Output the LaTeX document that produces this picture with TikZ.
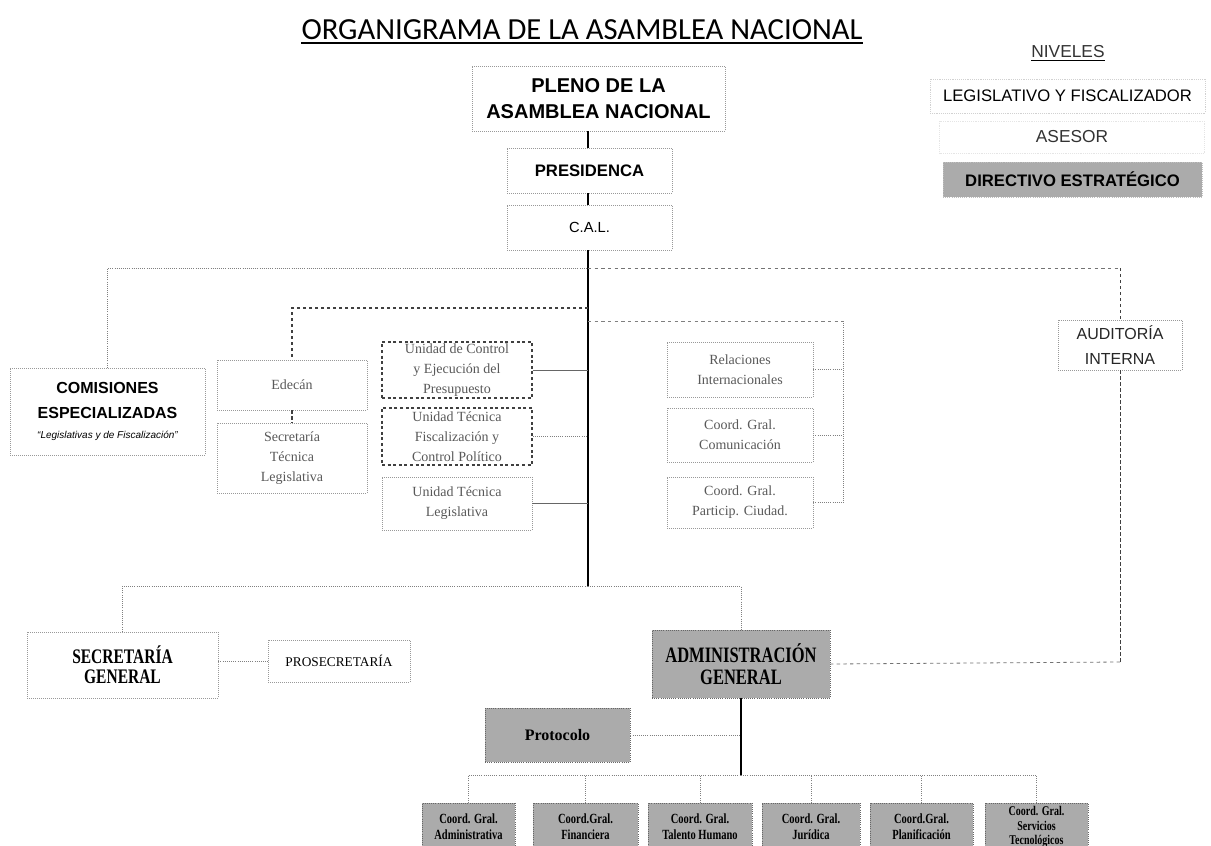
\documentclass[tikz,border=0pt]{standalone}
\usepackage{fontspec}
\setmainfont{Liberation Serif}
\newfontfamily\calib{Carlito}
\newfontfamily\arial{Liberation Sans}
\newfontfamily\condserif[FakeStretch=0.75]{Liberation Serif}
\tikzset{
  lbox/.style={draw=black!40,densely dotted,line width=0.5pt,inner sep=0pt,align=center},
  fbox/.style={draw=black!18,densely dotted,line width=0.4pt,inner sep=0pt,align=center},
  dbox/.style={draw=black!75,dash pattern=on 2.2pt off 2pt,line width=0.8pt,inner sep=0pt,align=center},
  gbox/.style={draw=black!60,densely dotted,line width=0.6pt,fill=black!33,inner sep=0pt,align=center},
  spine/.style={black,line width=1.5pt},
  gline/.style={black!50,densely dotted,line width=0.6pt},
  sline/.style={black!60,line width=0.6pt},
  dline/.style={black!75,dash pattern=on 2.5pt off 2pt,line width=0.8pt},
  rdash/.style={black!55,dash pattern=on 2.5pt off 2.5pt,line width=0.6pt},
  small/.style={font=\fontsize{10.5}{15}\selectfont, text=black!65},
  bottomtxt/.style={font=\condserif\bfseries\fontsize{10.5}{12}\selectfont}
}
\begin{document}
\begin{tikzpicture}[x=0.75pt,y=-0.75pt]
\clip (0,0) rectangle (1211,846);
\fill[white] (0,0) rectangle (1211,846);

% title and legend
\node[inner sep=0pt,anchor=base,font=\calib\fontsize{23}{26}\selectfont] (title) at (582,39) {ORGANIGRAMA DE LA ASAMBLEA NACIONAL};
\draw[line width=0.8pt] ([yshift=-3pt]title.base west) -- ([yshift=-3pt]title.base east);
\node[inner sep=0pt,anchor=base,font=\arial\fontsize{13}{15}\selectfont,text=black!80] (niv) at (1068,57) {NIVELES};
\draw[line width=0.6pt] ([yshift=-2.5pt]niv.base west) -- ([yshift=-2.5pt]niv.base east);
\node[fbox,minimum width=206.25pt,minimum height=25.5pt,font=\arial\fontsize{12.5}{14}\selectfont] (leg1) at (1067.5,96) {LEGISLATIVO Y FISCALIZADOR};
\node[fbox,draw=black!10,minimum width=198.75pt,minimum height=24pt,font=\arial\fontsize{13}{15}\selectfont,text=black!80] (leg2) at (1072,137) {ASESOR};
\node[gbox,draw=black!25,minimum width=194.25pt,minimum height=26.25pt,font=\arial\bfseries\fontsize{12.5}{14}\selectfont] (leg3) at (1072.5,179.5) {DIRECTIVO ESTRATÉGICO};

% top chain
\node[lbox,minimum width=189.75pt,minimum height=48.75pt,font=\arial\bfseries\fontsize{15}{19}\selectfont] (pleno) at (598.5,98.5) {PLENO DE LA\\ASAMBLEA NACIONAL};
\node[lbox,minimum width=123.75pt,minimum height=33.75pt,font=\arial\bfseries\fontsize{12.5}{14}\selectfont] (pres) at (589.5,170.5) {PRESIDENCA};
\node[lbox,minimum width=123.75pt,minimum height=33.75pt,font=\arial\fontsize{11}{13}\selectfont] (cal) at (589.5,227.5) {C.A.L.};

% left side
\node[lbox,minimum width=146.25pt,minimum height=65.25pt,font=\arial\bfseries\fontsize{12}{19}\selectfont] (comis) at (107.5,411.5) {COMISIONES\\ESPECIALIZADAS\\[-4pt]\mdseries\itshape\fontsize{7.5}{9}\selectfont “Legislativas y de Fiscalización”};
\node[lbox,minimum width=112.5pt,minimum height=37.5pt,small] (edecan) at (292,385) {Edecán};
\node[lbox,minimum width=112.5pt,minimum height=52.5pt,small] (sectec) at (292,458) {Secretaría\\Técnica\\Legislativa};

% center-left column
\node[dbox,minimum width=112.5pt,minimum height=42pt,small] (uce) at (457,370) {Unidad de Control\\y Ejecución del\\Presupuesto};
\node[dbox,minimum width=112.5pt,minimum height=42.75pt,small] (utf) at (457,436.5) {Unidad Técnica\\Fiscalización y\\Control Político};
\node[lbox,minimum width=112.5pt,minimum height=39.75pt,small] (utl) at (457,503.5) {Unidad Técnica\\Legislativa};

% center-right column
\node[lbox,minimum width=109.5pt,minimum height=41.25pt,small] (rel) at (740,369.5) {Relaciones\\Internacionales};
\node[lbox,minimum width=109.5pt,minimum height=40.5pt,small] (com) at (740,435) {Coord. Gral.\\Comunicación};
\node[lbox,minimum width=109.5pt,minimum height=38.25pt,small] (par) at (740,502.5) {Coord. Gral.\\Particip. Ciudad.};

% auditoria
\node[lbox,minimum width=93pt,minimum height=37.5pt,font=\arial\fontsize{12}{19}\selectfont,text=black!85] (aud) at (1120,345) {AUDITORÍA\\INTERNA};

% lower level
\node[lbox,minimum width=143.25pt,minimum height=49.5pt,font=\condserif\bfseries\fontsize{15.5}{15}\selectfont] (secg) at (122.5,665) {SECRETARÍA\\GENERAL};
\node[lbox,minimum width=106.5pt,minimum height=31.5pt,font=\fontsize{10}{12}\selectfont] (prosec) at (339,661) {PROSECRETARÍA};
\node[gbox,minimum width=133.5pt,minimum height=51pt,font=\condserif\bfseries\fontsize{16.5}{17}\selectfont] (admin) at (741,664) {ADMINISTRACIÓN\\GENERAL};
\node[gbox,minimum width=108.75pt,minimum height=40.5pt,font=\bfseries\fontsize{12}{14}\selectfont] (proto) at (557.5,735) {Protocolo};

% bottom boxes
\node[gbox,minimum width=69.75pt,minimum height=36pt,bottomtxt] (b1) at (468.5,827) {Coord. Gral.\\Administrativa};
\node[gbox,minimum width=78.75pt,minimum height=36pt,bottomtxt] (b2) at (585.5,827) {Coord.Gral.\\Financiera};
\node[gbox,minimum width=78pt,minimum height=36pt,bottomtxt] (b3) at (700,827) {Coord. Gral.\\Talento Humano};
\node[gbox,minimum width=73.5pt,minimum height=36pt,bottomtxt] (b4) at (811,827) {Coord. Gral.\\Jurídica};
\node[gbox,minimum width=77.25pt,minimum height=36pt,bottomtxt] (b5) at (921.5,827) {Coord.Gral.\\Planificación};
\node[gbox,minimum width=77.25pt,minimum height=36pt,font=\condserif\bfseries\fontsize{10}{11}\selectfont] (b6) at (1036.5,827) {Coord. Gral.\\Servicios\\Tecnológicos};

% coordinates
\coordinate (spine) at (588,0);
\coordinate (spTop) at (588,268);
\coordinate (audTop) at (1120,268);
\coordinate (audBot) at (1120,662);
\coordinate (sp306) at (588,308);
\coordinate (sp321) at (588,321);
\coordinate (rc) at (843,321);
\coordinate (spBot) at (588,586);
\coordinate (abot) at (741,775);

% spine
\draw[spine] (pleno.south -| spine) -- (pres.north -| spine);
\draw[spine] (pres.south -| spine) -- (cal.north -| spine);
\draw[spine] (cal.south -| spine) -- (spBot);

% top horizontal
\draw[gline] (comis.north) |- (spTop);
\draw[rdash] (spTop) -- (audTop);
\draw[dline,line width=0.7pt] (audTop) -- (aud.north);
\draw[dline,line width=0.7pt] (aud.south) -- (audBot);
\draw[rdash] (audBot) -- (admin.east);

% edecan branch
\draw[dline] (sp306) -| (edecan.north);
\draw[dline] (edecan.south) -- (sectec.north);

% center-left ties
\draw[sline] (uce.east) -- (uce.east -| spine);
\draw[gline] (utf.east) -- (utf.east -| spine);
\draw[sline] (utl.east) -- (utl.east -| spine);

% center-right
\draw[rdash,black!50] (sp321) -- (rc);
\draw[gline] (rc) -- (par.east -| rc);
\draw[gline] (rel.east) -- (rel.east -| rc);
\draw[gline] (com.east) -- (com.east -| rc);
\draw[gline] (par.east) -- (par.east -| rc);

% lower level
\draw[gline] (secg.north) |- (spBot);
\draw[gline] (spBot) -| (admin.north);
\draw[gline] (prosec.west -| secg.east) -- (prosec.west);
\draw[black,line width=1.2pt] (admin.south) -- (abot);
\draw[gline] (proto.east) -- (proto.east -| abot);

% bottom bus
\draw[gline] (b1.north) |- (abot);
\draw[gline] (abot) -| (b6.north);
\draw[gline] (b2.north) -- (b2.north |- abot);
\draw[gline] (b3.north) -- (b3.north |- abot);
\draw[gline] (b4.north) -- (b4.north |- abot);
\draw[gline] (b5.north) -- (b5.north |- abot);
\end{tikzpicture}
\end{document}
